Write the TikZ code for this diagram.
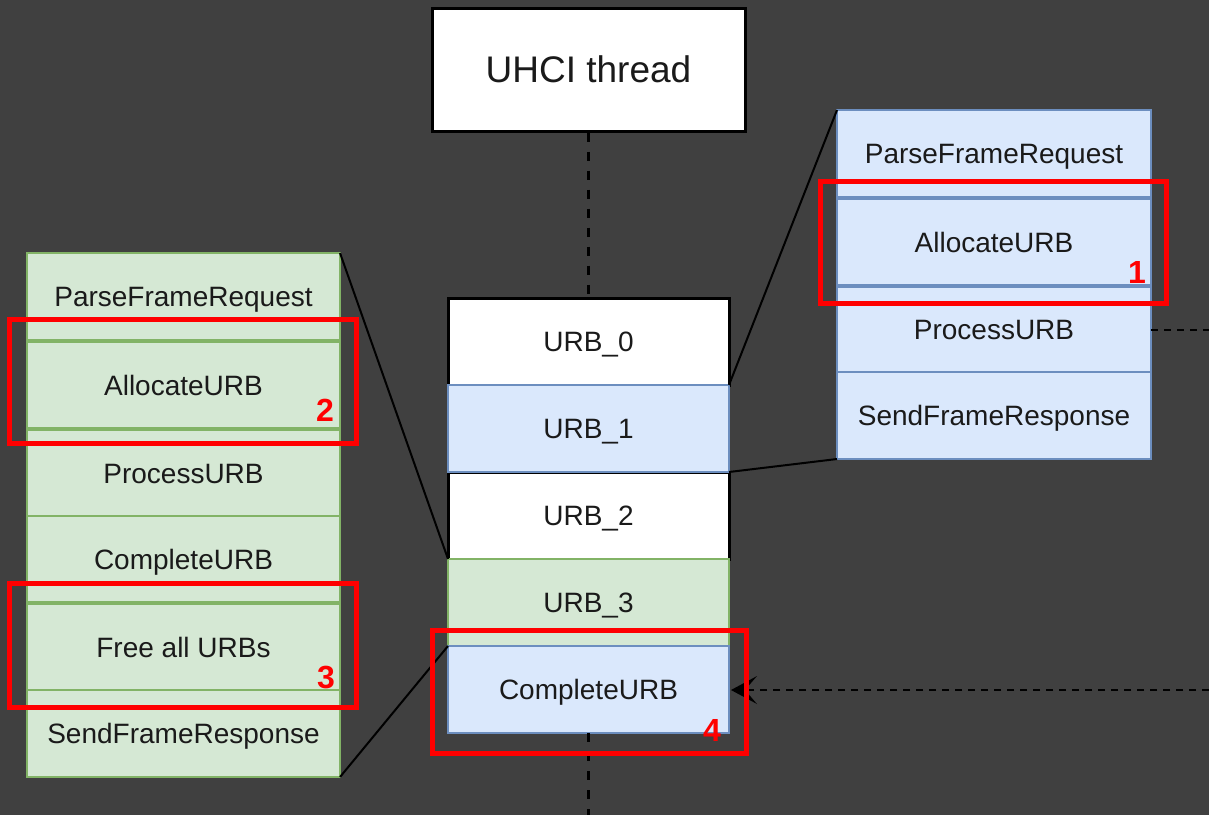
\documentclass[tikz,border=0pt]{standalone}
\usepackage{fontspec}
\setmainfont{Liberation Sans}
\definecolor{bgdark}{HTML}{404040}
\definecolor{greenfill}{HTML}{D5E8D4}
\definecolor{greenline}{HTML}{82B366}
\definecolor{bluefill}{HTML}{DAE8FC}
\definecolor{blueline}{HTML}{6C8EBF}
\definecolor{inktext}{HTML}{1A1A1A}
\definecolor{markred}{HTML}{FF0000}
\begin{document}
\begin{tikzpicture}[x=0.5pt,y=-0.5pt,
  cell/.style={rectangle, inner sep=0pt, outer sep=0pt, text=inktext,
    font=\fontsize{14}{16}\selectfont, text height=10pt, text depth=0pt,
    line width=1pt, minimum height=43.5pt},
  greencell/.style={cell, fill=greenfill, draw=greenline},
  bluecell/.style={cell, fill=bluefill, draw=blueline},
  whitecell/.style={cell, fill=white, draw=black, line width=1.5pt},
  leftw/.style={minimum width=156.5pt},
  midw/.style={minimum width=140.5pt},
  rightw/.style={minimum width=157pt},
  markbox/.style={rectangle, draw=markred, line width=2.5pt, inner sep=0pt, outer sep=0pt},
  marknum/.style={text=markred, font=\fontsize{16}{18}\selectfont\bfseries, inner sep=0pt},
  link/.style={draw=black, line width=1pt},
  lifeline/.style={draw=black, line width=1.5pt, dash pattern=on 4.5pt off 5pt},
  callline/.style={draw=black, line width=1pt, dash pattern=on 3.5pt off 3pt}
]
% canvas
\useasboundingbox (0,0) rectangle (1209,815);
\fill[bgdark] (0,0) rectangle (1209,815);

% thread header
\node[rectangle, fill=white, draw=black, line width=1.5pt, minimum width=156.5pt,
  minimum height=61.5pt, text=inktext, font=\fontsize{18.5}{20}\selectfont,
  text height=13.3pt, text depth=0pt]
  (uhci) at (588.5,69.5) {UHCI thread};

% left call sequence
\node[greencell, leftw] (lparse) at (183.5,296.5) {ParseFrameRequest};
\node[greencell, leftw, minimum height=43pt] (lalloc) at (183.5,385) {AllocateURB};
\node[greencell, leftw, minimum height=43pt] (lproc) at (183.5,473) {ProcessURB};
\node[greencell, leftw, minimum height=43pt] (lcomp) at (183.5,559) {CompleteURB};
\node[greencell, leftw, minimum height=43pt] (lfree) at (183.5,647) {Free all URBs};
\node[greencell, leftw] (lsend) at (183.5,733.5) {SendFrameResponse};

% URB queue
\node[whitecell, midw] (m0) at (588.5,341.5) {URB\_0};
\node[whitecell, midw] (m2) at (588.5,515.5) {URB\_2};
\node[bluecell, midw] (m1) at (588.5,428.5) {URB\_1};
\node[greencell, midw] (m3) at (588.5,602.5) {URB\_3};
\node[bluecell, midw] (m4) at (588.5,689.5) {CompleteURB};

% right call sequence
\node[bluecell, rightw] (rparse) at (994,153.5) {ParseFrameRequest};
\node[bluecell, rightw, minimum height=43pt] (ralloc) at (994,242) {AllocateURB};
\node[bluecell, rightw, minimum height=42.5pt] (rproc) at (994,329.5) {ProcessURB};
\node[bluecell, rightw] (rsend) at (994,415.5) {SendFrameResponse};

% zoom connectors
\draw[link] (lparse.north east) -- (m3.north west);
\draw[link] (lsend.south east) -- (m4.north west);
\draw[link] (rparse.north west) -- (m1.north east);
\draw[link] (rsend.south west) -- (m1.south east);

% lifelines and calls
\coordinate (bottomend) at (588.5,815);
\coordinate (procout) at (1209,329.5);
\coordinate (compin) at (1209,690);
\coordinate (comptip) at ([xshift=1pt]m4.east |- compin);
\draw[lifeline] (uhci.south) -- (m0.north);
\draw[lifeline] (m4.south) -- (bottomend);
\draw[callline] (rproc.east) -- (procout);
\draw[callline] (compin) -- ([xshift=7pt]comptip);
% concave arrow head at the receiving end
\fill[black] (comptip) -- ++(26,-14) -- ++(-12,14) -- ++(12,14) -- cycle;

% highlighted steps
\node[markbox, minimum width=173pt, minimum height=61pt] (mark1) at (993,242) {};
\node[markbox, minimum width=173.5pt, minimum height=62pt] (mark2) at (182.5,381) {};
\node[markbox, minimum width=173.5pt, minimum height=62pt] (mark3) at (182.5,645) {};
\node[markbox, minimum width=157pt, minimum height=61.5pt] (mark4) at (589,691.5) {};
\node[marknum] (num1) at (1137,272) {1};
\node[marknum] (num2) at (325,410) {2};
\node[marknum] (num3) at (326,677) {3};
\node[marknum] (num4) at (712,730) {4};
\end{tikzpicture}
\end{document}
